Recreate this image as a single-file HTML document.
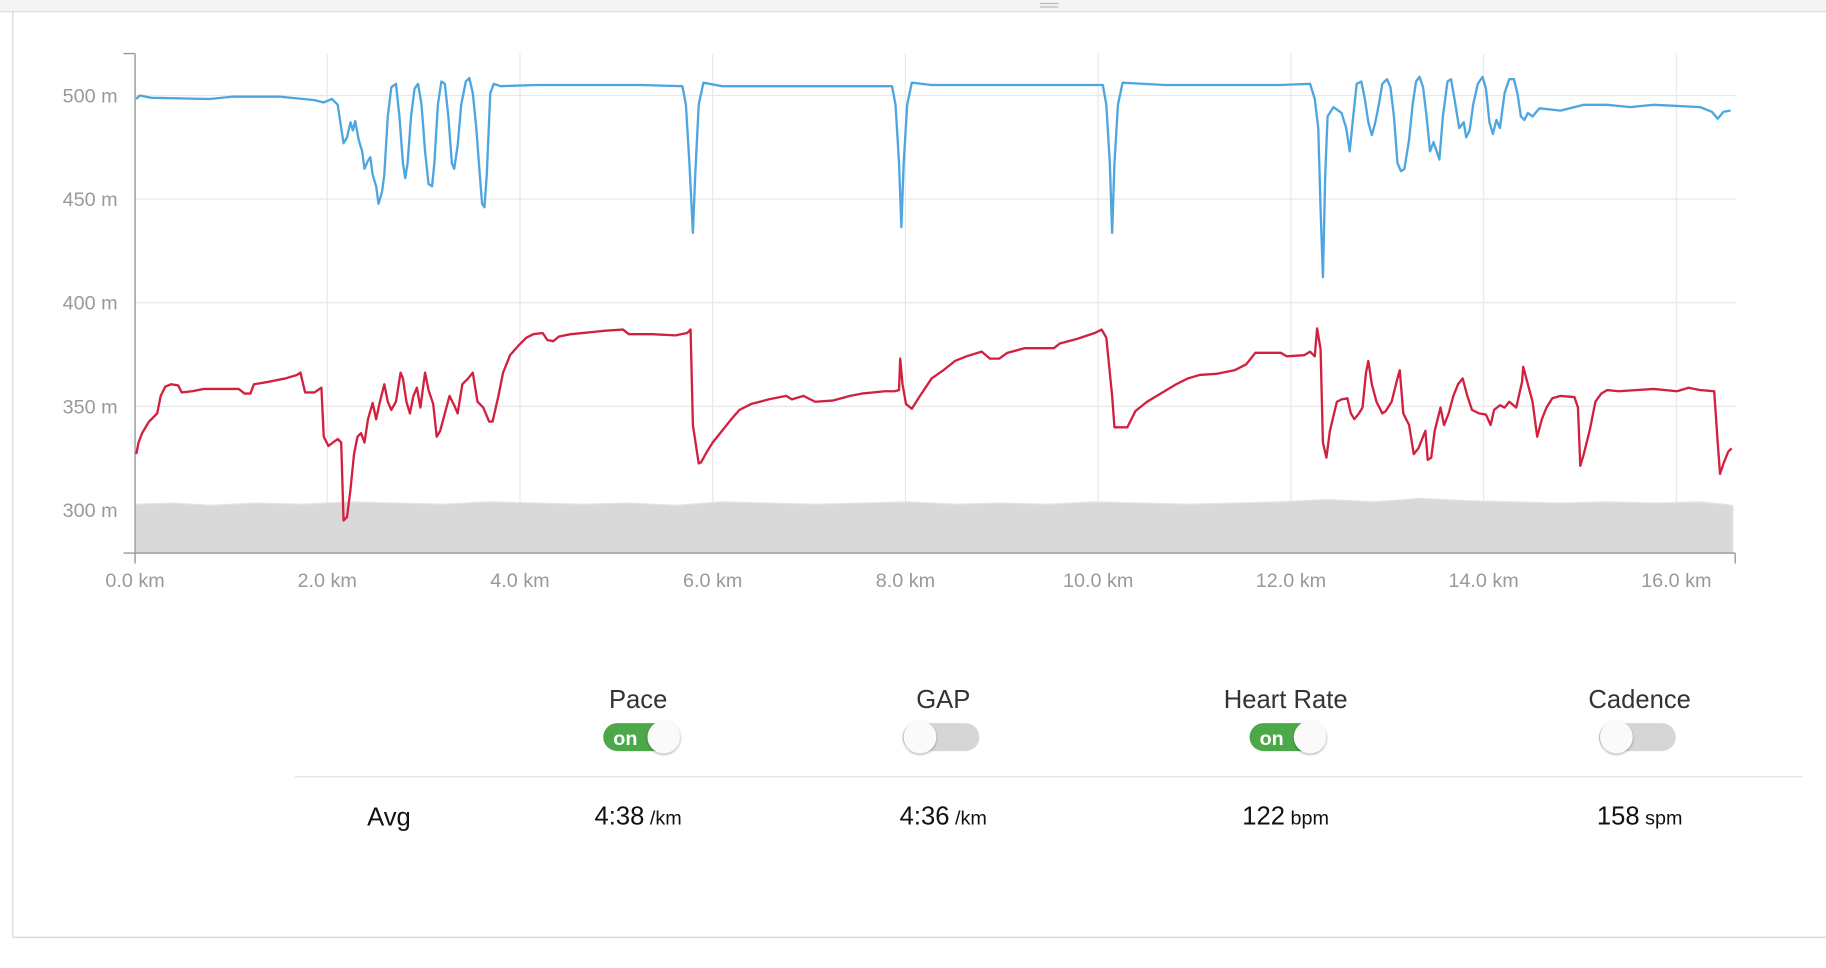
<!DOCTYPE html>
<html><head><meta charset="utf-8"><style>
html,body{margin:0;padding:0;background:#fff;width:1826px;height:968px;overflow:hidden}
svg{display:block}
text{font-family:"Liberation Sans",sans-serif}
</style></head><body>
<svg width="1826" height="968" viewBox="0 0 1568 831.3" preserveAspectRatio="none" xmlns="http://www.w3.org/2000/svg">
<rect x="0" y="0" width="1568" height="10" fill="#f4f4f6"/>
<line x1="0" y1="10" x2="1568" y2="10" stroke="#dcdce0" stroke-width="1"/>
<line x1="893" y1="3" x2="909" y2="3" stroke="#bbb" stroke-width="1"/>
<line x1="893" y1="6" x2="909" y2="6" stroke="#bbb" stroke-width="1"/>
<line x1="11" y1="10" x2="11" y2="805" stroke="#dcdce0" stroke-width="1.2"/>
<line x1="11" y1="805" x2="1568" y2="805" stroke="#dcdce0" stroke-width="1.2"/>
<!-- grid -->
<g stroke="#e8e8e8" stroke-width="1">
<line x1="116" y1="82" x2="1490" y2="82"/><line x1="116" y1="171" x2="1490" y2="171"/>
<line x1="116" y1="260" x2="1490" y2="260"/><line x1="116" y1="349" x2="1490" y2="349"/>
<line x1="116" y1="438" x2="1490" y2="438"/>
<line x1="281" y1="46" x2="281" y2="475"/><line x1="446.5" y1="46" x2="446.5" y2="475"/>
<line x1="612" y1="46" x2="612" y2="475"/><line x1="777.5" y1="46" x2="777.5" y2="475"/>
<line x1="943" y1="46" x2="943" y2="475"/><line x1="1108.5" y1="46" x2="1108.5" y2="475"/>
<line x1="1274" y1="46" x2="1274" y2="475"/><line x1="1439.5" y1="46" x2="1439.5" y2="475"/>
</g>
<path d="M116,433 L150,432 L180,434 L220,432 L260,433 L300,431 L340,432 L380,433 L420,431 L460,432 L500,433 L540,432 L580,434 L620,431 L660,432 L700,433 L740,432 L780,431 L820,433 L860,432 L900,433 L940,431 L980,432 L1020,433 L1060,432 L1100,431 L1140,429 L1180,431 L1220,428 L1260,430 L1300,431 L1340,432 L1380,431 L1420,432 L1460,431 L1480,433 L1488,434 L1488,475 L116,475 Z" fill="#d9d9d9" stroke="#e3e3e3" stroke-width="1"/>
<!-- axes -->
<g stroke="#999" stroke-width="1.2" fill="none">
<line x1="116" y1="46" x2="116" y2="475"/><line x1="106" y1="46" x2="116" y2="46"/>
<line x1="106" y1="475" x2="1490" y2="475"/><line x1="1490" y1="475" x2="1490" y2="484"/>
<line x1="116" y1="475" x2="116" y2="484"/>
</g>
<g fill="#999" font-size="17" text-anchor="end">
<text x="101" y="88">500 m</text><text x="101" y="177">450 m</text><text x="101" y="266">400 m</text><text x="101" y="355">350 m</text><text x="101" y="444">300 m</text>
</g>
<g fill="#999" font-size="17" text-anchor="middle">
<text x="116" y="504">0.0 km</text><text x="281" y="504">2.0 km</text><text x="446.5" y="504">4.0 km</text><text x="612" y="504">6.0 km</text><text x="777.5" y="504">8.0 km</text><text x="943" y="504">10.0 km</text><text x="1108.5" y="504">12.0 km</text><text x="1274" y="504">14.0 km</text><text x="1439.5" y="504">16.0 km</text>
</g>
<polyline fill="none" stroke="#4ea6e0" stroke-width="2" stroke-linejoin="round" points="117,85 120,82 130,84 180,85 200,83 240,83 270,86 278,88 285,85 290,90 293,110 295,123 298,118 301,105 303,112 305,104 308,120 311,130 313,145 316,138 318,135 320,150 323,160 325,175 328,165 330,150 333,100 336,75 340,72 343,100 346,140 348,153 350,140 353,100 356,76 359,72 362,90 365,130 368,158 371,160 373,140 376,90 379,70 382,72 385,100 388,140 390,145 393,125 396,90 400,70 403,67 406,80 409,110 412,150 414,175 416,178 418,150 421,80 424,72 430,74 460,73 550,73 586,74 589,90 592,140 595,200 597,150 600,90 604,71 620,74 700,74 766,74 769,90 772,140 774,195 776,140 779,90 783,71 800,73 900,73 947,73 950,90 953,140 955,200 957,140 960,90 964,71 1000,73 1100,73 1125,72 1129,85 1132,110 1134,180 1136,238 1138,150 1140,100 1145,92 1152,97 1156,110 1159,130 1162,100 1165,72 1169,70 1172,85 1175,105 1178,116 1181,105 1184,90 1187,72 1191,68 1194,75 1197,100 1200,140 1203,147 1206,145 1210,120 1213,90 1216,70 1219,66 1222,75 1225,100 1228,130 1231,122 1233,128 1236,137 1239,100 1243,70 1246,68 1249,85 1253,110 1257,105 1259,118 1262,112 1265,90 1269,72 1273,66 1276,76 1279,105 1282,115 1285,103 1288,110 1292,80 1296,68 1300,68 1303,80 1306,100 1309,103 1312,97 1316,100 1322,93 1340,95 1360,90 1380,90 1400,92 1420,90 1440,91 1460,92 1470,96 1475,102 1480,96 1486,95"/>
<polyline fill="none" stroke="#d2203f" stroke-width="2" stroke-linejoin="round" points="117,390 119,380 122,372 128,362 135,355 138,340 142,332 147,330 153,331 156,337 165,336 175,334 195,334 205,334 210,338 215,338 218,330 230,328 245,325 255,322 258,320 262,337 270,337 276,333 278,375 282,383 290,377 293,380 295,447 298,444 301,420 304,390 307,375 310,372 313,380 316,360 320,346 323,360 326,346 330,330 333,345 336,352 340,345 344,320 346,325 349,345 352,355 355,340 358,333 361,350 365,320 368,335 372,347 375,375 378,370 382,355 386,340 390,348 393,355 397,330 402,325 406,320 410,345 415,350 420,362 423,362 428,340 432,320 438,305 445,297 452,290 458,287 466,286 470,292 475,293 480,289 490,287 500,286 510,285 520,284 535,283 540,287 560,287 580,288 590,286 593,283 595,365 598,385 600,398 602,397 607,388 612,380 620,370 628,360 635,352 645,347 660,343 675,340 680,343 690,340 700,345 715,344 730,340 740,338 760,336 768,336 772,335 773,308 775,330 778,347 783,351 790,340 796,331 800,325 810,318 820,310 830,306 843,302 850,308 858,308 865,303 880,299 905,299 910,295 925,291 940,286 946,283 950,290 955,340 957,367 968,367 975,353 985,345 995,339 1010,330 1020,325 1030,322 1045,321 1060,318 1070,313 1078,303 1100,303 1105,306 1120,305 1125,302 1129,306 1131,282 1134,300 1136,380 1139,393 1142,370 1148,345 1152,343 1157,342 1160,355 1163,360 1167,355 1170,350 1173,320 1175,310 1178,330 1182,345 1187,355 1190,353 1195,345 1200,325 1202,318 1205,355 1210,365 1214,390 1218,385 1222,375 1224,370 1226,395 1229,393 1232,370 1237,350 1240,365 1244,355 1248,340 1252,330 1256,325 1260,340 1264,352 1270,355 1276,356 1280,365 1283,352 1288,348 1292,350 1296,345 1302,350 1307,328 1308,315 1312,330 1316,345 1320,375 1324,360 1328,350 1333,342 1340,340 1352,341 1355,350 1357,400 1360,390 1365,370 1370,345 1375,338 1380,335 1390,336 1420,334 1440,336 1450,333 1460,335 1472,336 1475,380 1477,407 1480,398 1484,388 1487,385"/>
<!-- controls -->
<g fill="#333" font-size="22" text-anchor="middle">
<text x="548" y="608">Pace</text><text x="810" y="608">GAP</text><text x="1104" y="608">Heart Rate</text><text x="1408" y="608">Cadence</text>
</g>
<defs><filter id="sh" x="-50%" y="-50%" width="200%" height="200%"><feDropShadow dx="0" dy="1" stdDeviation="1.2" flood-opacity="0.35"/></filter></defs>
<rect x="518" y="621" width="66" height="24" rx="12" fill="#4ca848"/>
<text x="537" y="640" fill="#fff" font-size="17" font-weight="bold" text-anchor="middle">on</text>
<circle cx="570" cy="633" r="14" fill="#fafafa" filter="url(#sh)"/>
<rect x="775" y="621" width="66" height="24" rx="12" fill="#d6d6d6"/>
<circle cx="790" cy="633" r="14" fill="#fafafa" filter="url(#sh)"/>
<rect x="1073" y="621" width="66" height="24" rx="12" fill="#4ca848"/>
<text x="1092" y="640" fill="#fff" font-size="17" font-weight="bold" text-anchor="middle">on</text>
<circle cx="1125" cy="633" r="14" fill="#fafafa" filter="url(#sh)"/>
<rect x="1373" y="621" width="66" height="24" rx="12" fill="#d6d6d6"/>
<circle cx="1388" cy="633" r="14" fill="#fafafa" filter="url(#sh)"/>
<line x1="253" y1="667" x2="1548" y2="667" stroke="#e6e6e6" stroke-width="1.2"/>
<g fill="#111" text-anchor="middle">
<text x="334" y="709" font-size="22">Avg</text>
<text x="548" y="708"><tspan font-size="22">4:38</tspan><tspan font-size="17"> /km</tspan></text>
<text x="810" y="708"><tspan font-size="22">4:36</tspan><tspan font-size="17"> /km</tspan></text>
<text x="1104" y="708"><tspan font-size="22">122</tspan><tspan font-size="17"> bpm</tspan></text>
<text x="1408" y="708"><tspan font-size="22">158</tspan><tspan font-size="17"> spm</tspan></text>
</g>
</svg>
</body></html>
